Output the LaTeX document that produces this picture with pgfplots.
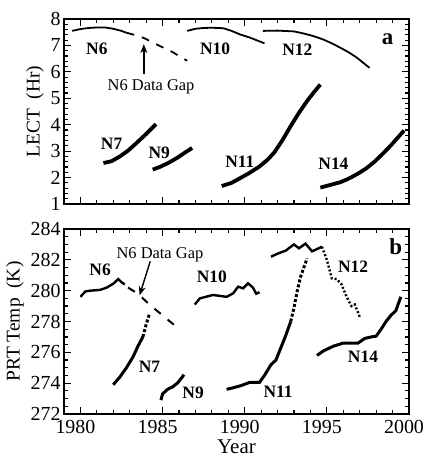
\documentclass[border=0pt]{standalone}
\usepackage{fontspec}
\setmainfont{Liberation Serif}
\usepackage{pgfplots}
\pgfplotsset{compat=1.18}
\usetikzlibrary{arrows.meta}
\tikzset{lab/.style={font=\bfseries\fontsize{17.5}{17.5}\selectfont}}
\begin{document}
\begin{tikzpicture}
\useasboundingbox (-64bp,-47bp) rectangle (359bp,414bp);
\pgfplotsset{
 common/.style={
  scale only axis, width=345bp, height=185bp,
  xmin=1979, xmax=2000,
  xtick={1980,1985,1990,1995,2000},
  minor x tick num=4,
  tick align=inside,
  major tick length=7bp, minor tick length=4bp,
  axis line style={line width=1.7bp},
  every tick/.style={line width=1.2bp, black},
  tick label style={font=\fontsize{20}{20}\selectfont},
  label style={font=\fontsize{19.5}{19.5}\selectfont},
  /pgf/number format/assume math mode=true,
  /pgf/number format/1000 sep={},
  clip=false,
 },
 sthin/.style={black, line width=1.8bp, no marks},
 sthick/.style={black, line width=3.8bp, no marks},
 bthick/.style={black, line width=3bp, no marks},
}
\begin{axis}[common, at={(0,210bp)}, ymin=1, ymax=8, ytick={1,...,8}, minor y tick num=4, xticklabels={}, ylabel={LECT\ \ (Hr)}]
\addplot[sthin] coordinates {(1979.5,7.55) (1980,7.62) (1980.5,7.66) (1981,7.68) (1981.5,7.68) (1982,7.63) (1982.5,7.55) (1982.8,7.48)};
\addplot[sthin, dash pattern=on 8bp off 8bp] coordinates {(1982.8,7.48) (1983.4,7.38) (1983.9,7.27) (1984.5,7.08) (1985.1,6.9) (1985.6,6.75) (1986.0,6.6) (1986.5,6.42)};
\addplot[sthin] coordinates {(1986.5,7.55) (1987,7.63) (1987.5,7.66) (1988,7.67) (1988.7,7.65) (1989.2,7.55) (1989.7,7.42) (1990.3,7.3) (1991.2,7.08)};
\addplot[sthin] coordinates {(1991.1,7.55) (1992,7.56) (1993,7.53) (1993.6,7.45) (1994.2,7.35) (1994.8,7.22) (1995.3,7.08) (1995.8,6.92) (1996.3,6.75) (1996.8,6.55) (1997.2,6.35) (1997.6,6.15)};
\addplot[sthick] coordinates {(1981.4,2.55) (1981.9,2.62) (1982.4,2.8) (1982.9,3.02) (1983.4,3.3) (1984.0,3.65) (1984.6,4.02)};
\addplot[sthick] coordinates {(1984.4,2.3) (1984.9,2.42) (1985.4,2.57) (1985.9,2.75) (1986.3,2.92) (1986.8,3.12)};
\addplot[sthick] coordinates {(1988.6,1.68) (1989.2,1.8) (1989.7,1.97) (1990.3,2.18) (1990.9,2.42) (1991.4,2.68) (1991.8,2.95) (1992.3,3.42) (1992.8,3.95) (1993.3,4.45) (1993.8,4.9) (1994.2,5.22) (1994.6,5.52)};
\addplot[sthick] coordinates {(1994.6,1.62) (1995.2,1.72) (1995.8,1.82) (1996.3,1.95) (1996.9,2.15) (1997.4,2.35) (1997.9,2.6) (1998.4,2.9) (1998.9,3.22) (1999.3,3.5) (1999.7,3.78)};
\node[lab] at (axis cs:1981.0,6.89) {N6};
\node[lab] at (axis cs:1988.2,6.89) {N10};
\node[lab] at (axis cs:1993.2,6.83) {N12};
\node[lab] at (axis cs:1981.9,3.27) {N7};
\node[lab] at (axis cs:1984.8,2.92) {N9};
\node[lab] at (axis cs:1989.7,2.6) {N11};
\node[lab] at (axis cs:1995.4,2.54) {N14};
\node[font=\bfseries\fontsize{23}{23}\selectfont] at (axis cs:1998.7,7.24) {a};
\node[font=\fontsize{16.5}{16.5}\selectfont] at (axis cs:1984.3,5.42) {N6 Data Gap};
\draw[line width=1.4bp, -{Stealth[length=9bp,width=7bp]}] (axis cs:1983.86,5.9) -- (axis cs:1983.86,7.05);
\end{axis}
\begin{axis}[common, ymin=272, ymax=284, ytick={272,274,...,284}, minor y tick num=3, xlabel={Year}, ylabel={PRT Temp\ \ (K)}, xticklabel style={xshift=-5bp, yshift=-3bp}, xlabel style={yshift=1bp, font=\fontsize{21}{21}\selectfont}]
\addplot[bthick, line width=2.4bp] coordinates {(1980,279.6) (1980.3,279.95) (1980.6,280.0) (1981.2,280.05) (1981.6,280.2) (1982.0,280.45) (1982.3,280.75) (1982.5,280.55) (1982.7,280.4)};
\addplot[bthick, line width=2bp, dash pattern=on 8bp off 9bp] coordinates {(1982.9,280.2) (1983.5,279.8) (1984.2,279.1) (1985,278.4) (1985.9,277.6)};
\addplot[bthick] coordinates {(1982,273.9) (1982.4,274.4) (1982.8,275.0) (1983.2,275.7) (1983.5,276.4) (1983.8,277.0)};
\addplot[bthick, dash pattern=on 3bp off 2bp] coordinates {(1983.8,277.0) (1984.0,277.8) (1984.2,278.5)};
\addplot[bthick] coordinates {(1984.9,272.9) (1985.0,273.3) (1985.3,273.6) (1985.6,273.75) (1985.9,274.0) (1986.2,274.4) (1986.3,274.55)};
\addplot[bthick, line width=2.4bp] coordinates {(1986.96,279.1) (1987.27,279.5) (1988.07,279.72) (1988.9,279.6) (1989.3,279.83) (1989.6,280.26) (1989.9,280.15) (1990.2,280.48) (1990.5,280.2) (1990.7,279.8) (1990.9,279.9)};
\addplot[bthick] coordinates {(1988.9,273.6) (1989.3,273.7) (1989.8,273.85) (1990.3,274.05) (1990.9,274.05) (1991.2,274.5) (1991.6,275.2) (1991.9,275.5) (1992.2,276.3) (1992.5,277.1) (1992.8,278.0)};
\addplot[bthick, dash pattern=on 3bp off 2bp] coordinates {(1992.8,278.0) (1993.0,278.9) (1993.2,280.0) (1993.4,280.9) (1993.6,281.5) (1993.8,282.1)};
\addplot[bthick, line width=2.4bp] coordinates {(1991.6,282.2) (1992.0,282.4) (1992.5,282.6) (1993.0,283.0) (1993.3,282.75) (1993.7,283.05) (1994.1,282.55) (1994.5,282.75) (1994.7,282.85)};
\addplot[bthick, line width=2.4bp, dash pattern=on 2bp off 2bp] coordinates {(1994.7,282.85) (1995.0,282.0) (1995.3,280.8) (1995.6,280.75) (1995.9,280.4) (1996.2,279.6) (1996.5,279.0) (1996.7,279.1) (1997.0,278.3)};
\addplot[bthick] coordinates {(1994.4,275.8) (1994.8,276.1) (1995.4,276.4) (1996.0,276.6) (1996.5,276.6) (1996.9,276.6) (1997.3,276.9) (1997.7,277.0) (1998.0,277.05) (1998.3,277.5) (1998.6,278.0) (1998.9,278.4) (1999.2,278.7) (1999.5,279.6)};
\node[lab] at (axis cs:1981.2,281.34) {N6};
\node[lab] at (axis cs:1988.0,280.9) {N10};
\node[lab] at (axis cs:1996.6,281.55) {N12};
\node[lab] at (axis cs:1984.2,275.07) {N7};
\node[lab] at (axis cs:1986.86,273.35) {N9};
\node[lab] at (axis cs:1992.03,273.45) {N11};
\node[lab] at (axis cs:1997.2,275.7) {N14};
\node[font=\bfseries\fontsize{23}{23}\selectfont] at (axis cs:1999.2,282.85) {b};
\node[font=\fontsize{16.5}{16.5}\selectfont] at (axis cs:1984.84,282.3) {N6 Data Gap};
\draw[line width=1.4bp, -{Stealth[length=9bp,width=7bp]}] (axis cs:1984.25,281.9) -- (axis cs:1983.6,279.7);
\end{axis}
\end{tikzpicture}
\end{document}
